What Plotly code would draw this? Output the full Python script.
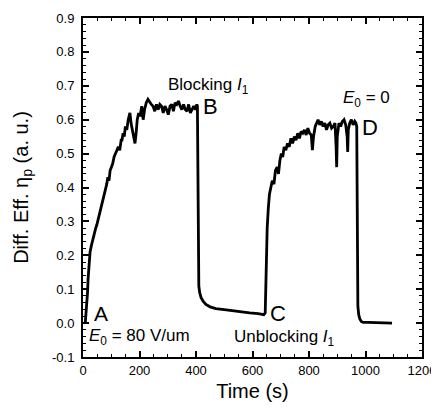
import plotly.graph_objects as go

# Time (s) and diffraction efficiency (a.u.)
time_s = [8, 10, 13, 16, 18, 22, 25, 30, 38, 45, 49, 55, 62, 71, 78, 84, 88, 92, 96, 100,
          105, 110, 116, 120, 125, 130, 135, 138, 142, 146, 150, 155, 160, 166, 170, 175, 180, 184, 188, 192,
          197, 202, 208, 213, 218, 224, 230, 236, 242, 248, 254, 260, 266, 272, 278, 284, 290, 296, 302, 308,
          314, 320, 326, 332, 338, 344, 350, 356, 362, 368, 374, 380, 386, 392, 398, 403, 405,
          406, 407, 408, 410, 413, 418, 425, 435, 450, 470, 500, 530, 560, 590, 620, 640,
          645, 648, 652, 656, 660, 665, 670, 676, 681, 687, 692, 697, 702, 707, 712, 718, 724, 730, 736, 742,
          748, 754, 760, 766, 772, 778, 784, 790, 796, 802, 808, 812, 816, 822, 828, 832, 838, 844, 850, 856,
          862, 868, 874, 880, 886, 892, 896, 898, 900, 906, 912, 918, 924, 930, 935, 937, 939, 944, 950, 956,
          962, 966, 969, 970, 971, 973, 976, 980, 985, 992, 1010, 1040, 1070, 1094]
efficiency = [0.0, 0.02, 0.04, 0.09, 0.13, 0.18, 0.21, 0.23, 0.26, 0.28, 0.29, 0.31, 0.33, 0.36, 0.39, 0.41, 0.43, 0.42, 0.45, 0.46,
              0.47, 0.49, 0.50, 0.51, 0.52, 0.51, 0.54, 0.54, 0.56, 0.55, 0.58, 0.57, 0.60, 0.62, 0.59, 0.57, 0.55, 0.53, 0.56, 0.60,
              0.62, 0.61, 0.64, 0.60, 0.63, 0.65, 0.66, 0.65, 0.645, 0.64, 0.625, 0.645, 0.63, 0.645, 0.64, 0.62, 0.64, 0.63, 0.615, 0.64,
              0.645, 0.625, 0.65, 0.645, 0.655, 0.64, 0.63, 0.645, 0.63, 0.625, 0.645, 0.62, 0.63, 0.64, 0.63, 0.645, 0.64,
              0.45, 0.25, 0.15, 0.11, 0.09, 0.075, 0.065, 0.055, 0.048, 0.043, 0.04, 0.036, 0.033, 0.03, 0.028, 0.025,
              0.03, 0.15, 0.28, 0.34, 0.38, 0.40, 0.42, 0.41, 0.45, 0.46, 0.44, 0.48, 0.50, 0.49, 0.52, 0.51, 0.53, 0.52, 0.545, 0.53,
              0.55, 0.54, 0.56, 0.545, 0.565, 0.56, 0.57, 0.555, 0.575, 0.56, 0.555, 0.51, 0.55, 0.58, 0.59, 0.60, 0.585, 0.595, 0.58, 0.59,
              0.57, 0.585, 0.59, 0.575, 0.58, 0.59, 0.52, 0.46, 0.55, 0.59, 0.58, 0.595, 0.60, 0.585, 0.55, 0.505, 0.57, 0.59, 0.60, 0.585,
              0.595, 0.59, 0.58, 0.30, 0.12, 0.05, 0.025, 0.012, 0.005, 0.002, 0.002, 0.002, 0.0, 0.0]

x_ticks = [0, 200, 400, 600, 800, 1000, 1200]
y_ticks = [-0.1, 0.0, 0.1, 0.2, 0.3, 0.4, 0.5, 0.6, 0.7, 0.8, 0.9]

# annotation labels: (text, x, y, size)
labels = [
    ("Blocking <i>I</i><sub>1</sub>", 294, 0.70, 17),
    ("B", 418, 0.64, 22),
    ("A", 32, 0.027, 21),
    ("<i>E</i><sub>0</sub> = 80 V/um", 14, -0.042, 17),
    ("C", 655, 0.027, 22),
    ("Unblocking <i>I</i><sub>1</sub>", 527, -0.043, 17),
    ("<i>E</i><sub>0</sub> = 0", 913, 0.66, 17),
    ("D", 980, 0.577, 22),
]

FONT = "Liberation Sans, Arial, sans-serif"

fig = go.Figure()
fig.add_trace(go.Scatter(x=time_s, y=efficiency, mode="lines",
                         line=dict(color="black", width=2.8), showlegend=False))

for text, x, y, size in labels:
    fig.add_annotation(x=x, y=y, text=text, showarrow=False, xanchor="left", yanchor="middle",
                       font=dict(family=FONT, size=size, color="black"))

axis_common = dict(showline=True, linecolor="black", linewidth=2, mirror="allticks",
                   ticks="inside", ticklen=6, tickwidth=1.5, tickcolor="black",
                   showgrid=False, zeroline=False, automargin=False, ticklabeloverflow="allow",
                   tickfont=dict(family=FONT, size=13, color="black"))

fig.update_xaxes(range=[0, 1200], tickvals=x_ticks, ticktext=[str(v) for v in x_ticks],
                 minor=dict(ticks="inside", ticklen=3, dtick=50, tickcolor="black", tickwidth=1),
                 title=dict(text="Time (s)", font=dict(family=FONT, size=20, color="black"), standoff=16),
                 **axis_common)
fig.update_yaxes(range=[-0.1, 0.9], tickvals=y_ticks, ticktext=[f"{v:.1f}" for v in y_ticks],
                 ticklabelstandoff=4,
                 minor=dict(ticks="inside", ticklen=3, dtick=0.02, tickcolor="black", tickwidth=1),
                 title=dict(text="Diff. Eff. η<sub>p</sub> (a. u.)", font=dict(family=FONT, size=20, color="black"), standoff=18),
                 **axis_common)

# page body has an 8px margin; keep the figure inside the 439x412 window without scrollbars
fig.update_layout(width=427, height=394, margin=dict(l=75, r=13, t=10, b=45),
                  plot_bgcolor="white", paper_bgcolor="white")

fig.write_html("out.html")
